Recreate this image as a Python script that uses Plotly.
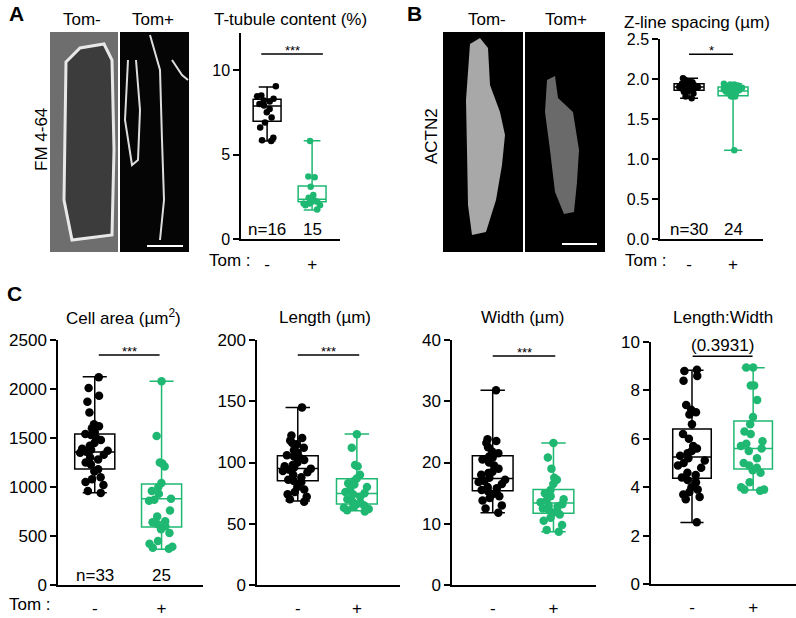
import plotly.graph_objects as go

W, H = 796, 618
GREEN = "#1fb872"
BLACK = "#000000"
FONT = "Liberation Sans"

# ---------------- data ----------------
groups = ["-", "+"]

ttub_neg = [9.05, 8.5, 8.45, 8.3, 8.2, 8.15, 8.0, 7.9, 7.7, 7.5, 7.2, 6.9, 6.6, 6.0, 5.85, 5.8]
ttub_pos = [5.8, 3.7, 3.65, 3.1, 2.6, 2.45, 2.4, 2.3, 2.2, 2.2, 2.1, 2.1, 2.0, 2.0, 1.75]
ttub_stats = {"-": [6.98, 7.87, 8.27, 5.8, 9.0], "+": [2.2, 2.35, 3.14, 1.72, 5.82]}

zline_neg = [2.01, 1.99, 1.97, 1.96, 1.95, 1.95, 1.94, 1.94, 1.93, 1.93, 1.92, 1.92, 1.91, 1.91, 1.90,
             1.90, 1.90, 1.89, 1.89, 1.88, 1.88, 1.87, 1.87, 1.86, 1.86, 1.85, 1.84, 1.82, 1.78, 1.76]
zline_pos = [1.94, 1.93, 1.93, 1.92, 1.91, 1.91, 1.90, 1.90, 1.89, 1.88, 1.87, 1.86, 1.86, 1.85, 1.84,
             1.83, 1.82, 1.81, 1.80, 1.80, 1.79, 1.78, 1.78, 1.11]
zline_stats = {"-": [1.86, 1.90, 1.94, 1.76, 2.01], "+": [1.79, 1.85, 1.90, 1.11, 1.94]}

area_neg = [2120, 2010, 1930, 1870, 1760, 1640, 1620, 1600, 1560, 1540, 1530, 1500, 1480, 1450, 1420, 1390,
            1380, 1370, 1360, 1350, 1330, 1300, 1280, 1250, 1230, 1180, 1160, 1100, 1080, 1050, 1020, 960, 940]
area_pos = [2080, 1520, 1250, 1240, 1210, 1040, 1000, 960, 930, 880, 870, 860, 760, 700, 650, 640, 620,
            600, 570, 530, 450, 420, 390, 380, 370]
area_stats = {"-": [1184, 1357, 1541, 942, 2126], "+": [592, 881, 1031, 364, 2080]}

len_neg = [145, 122, 120, 118, 116, 115, 112, 110, 108, 106, 105, 104, 102, 100, 98, 97, 96, 95, 94, 93,
           92, 90, 88, 86, 85, 84, 80, 78, 76, 74, 72, 70, 68]
len_pos = [123, 112, 98, 97, 90, 87, 85, 83, 82, 80, 78, 76, 75, 74, 72, 70, 68, 67, 66, 65, 64, 63, 62, 61, 60]
len_stats = {"-": [85.2, 95.2, 105.6, 68.6, 144.8], "+": [66.1, 74.6, 86.8, 60.7, 123.3]}

wid_neg = [31.8, 23.8, 23.5, 23.2, 22.5, 21.8, 21.5, 21.0, 20.8, 20.5, 20.0, 19.5, 19.0, 18.5, 18.3, 18.0,
           17.5, 17.2, 17.0, 16.8, 16.5, 16.0, 15.8, 15.5, 15.3, 15.0, 14.8, 14.5, 14.2, 13.8, 13.0, 12.5, 11.8]
wid_pos = [23.2, 20.8, 19.0, 17.5, 17.2, 16.5, 15.5, 15.0, 14.5, 14.0, 13.8, 13.5, 13.2, 13.0, 12.8, 12.5,
           12.2, 12.0, 11.8, 11.5, 11.0, 10.5, 9.8, 9.0, 8.7]
wid_stats = {"-": [15.4, 17.4, 21.1, 11.8, 31.8], "+": [11.7, 13.4, 15.6, 8.7, 23.2]}

lw_neg = [8.85, 8.8, 8.6, 8.4, 7.4, 7.2, 7.1, 7.0, 6.6, 6.2, 6.0, 5.7, 5.6, 5.5, 5.4, 5.3, 5.2, 5.1, 5.0,
          4.9, 4.8, 4.6, 4.5, 4.4, 4.3, 4.2, 4.0, 3.9, 3.8, 3.7, 3.6, 3.5, 2.55]
lw_pos = [8.95, 8.95, 8.2, 8.2, 7.6, 6.9, 6.6, 6.3, 6.2, 5.9, 5.8, 5.7, 5.6, 5.5, 5.2, 5.0, 4.9, 4.8, 4.7,
          4.6, 4.2, 4.0, 3.9, 3.9, 3.85]
lw_stats = {"-": [4.37, 5.25, 6.40, 2.54, 8.83], "+": [4.75, 5.60, 6.74, 3.88, 8.94]}

n_labels = {"A": ["n=16", "15"], "B": ["n=30", "24"], "C": ["n=33", "25"]}


def fx(p):
    return p / W


def fy(p):
    return 1 - p / H


fig = go.Figure()

panels = [
    dict(ax="", neg=ttub_neg, pos=ttub_pos, st=ttub_stats, xpx=(241, 340), ypx=(239, 33),
         xr=[-0.58, 1.62], yr=[0, 12.2], tv=[0, 5, 10], fmt="", bw=0.62, ms=6.5, tf=16,
         title="T-tubule content (%)", tx=290, ty=20, sig=("***", -0.13, 1.24, 10.95), n="A", tl=9),
    dict(ax="2", neg=zline_neg, pos=zline_pos, st=zline_stats, xpx=(660, 763), ypx=(239, 39),
         xr=[-0.66, 1.68], yr=[0, 2.5], tv=[0, 0.5, 1.0, 1.5, 2.0, 2.5], fmt=".1f", bw=0.68, ms=6.5, tf=16,
         title="Z-line spacing (µm)", tx=697, ty=22, sig=("*", 0.0, 1.0, 2.31), n="B", tl=9),
    dict(ax="3", neg=area_neg, pos=area_pos, st=area_stats, xpx=(58, 203), ypx=(585, 340),
         xr=[-0.55, 1.62], yr=[0, 2500], tv=[0, 500, 1000, 1500, 2000, 2500], fmt="", bw=0.6, ms=8.5, tf=17,
         title="Cell area (µm<sup>2</sup>)", tx=123, ty=317, sig=("***", 0.06, 0.97, 2347), n="C", tl=7),
    dict(ax="4", neg=len_neg, pos=len_pos, st=len_stats, xpx=(257, 400), ypx=(585, 340),
         xr=[-0.69, 1.73], yr=[0, 200], tv=[0, 50, 100, 150, 200], fmt="", bw=0.69, ms=8.5, tf=17,
         title="Length (µm)", tx=325, ty=317, sig=("***", 0.0, 1.04, 187.7), n=None, tl=7),
    dict(ax="5", neg=wid_neg, pos=wid_pos, st=wid_stats, xpx=(452, 596), ypx=(585, 340),
         xr=[-0.67, 1.70], yr=[0, 40], tv=[0, 10, 20, 30, 40], fmt="", bw=0.67, ms=8.5, tf=17,
         title="Width (µm)", tx=522, ty=317, sig=("***", 0.0, 1.03, 37.4), n=None, tl=7),
    dict(ax="6", neg=lw_neg, pos=lw_pos, st=lw_stats, xpx=(651, 796), ypx=(584, 342),
         xr=[-0.67, 1.70], yr=[0, 10], tv=[0, 2, 4, 6, 8, 10], fmt="", bw=0.63, ms=8.5, tf=17,
         title="Length:Width", tx=723, ty=317, sig=("(0.3931)", 0.01, 0.99, 9.41), n=None, tl=7),
]

annotations = []
shapes = []


def txt(text, x, y, size, xref="paper", yref="paper", **kw):
    d = dict(text=text, x=x, y=y, xref=xref, yref=yref, showarrow=False, xanchor="center",
             yanchor="middle", font=dict(family=FONT, size=size, color="black"))
    d.update(kw)
    return d


for p in panels:
    xa = "x" + p["ax"]
    ya = "y" + p["ax"]
    for i, (g, vals, col) in enumerate([("-", p["neg"], BLACK), ("+", p["pos"], GREEN)]):
        q1, med, q3, lo, hi = p["st"][g]
        fig.add_trace(go.Box(
            x=[i], q1=[q1], median=[med], q3=[q3], lowerfence=[lo], upperfence=[hi],
            width=p["bw"], whiskerwidth=0.6, fillcolor="rgba(0,0,0,0)",
            line=dict(color=col, width=1.5), boxpoints=False, showlegend=False,
            xaxis=xa, yaxis=ya))
        fig.add_trace(go.Box(
            x=[i] * len(vals), y=vals, width=p["bw"], boxpoints="all", jitter=0.75, pointpos=0,
            fillcolor="rgba(0,0,0,0)", line=dict(color="rgba(0,0,0,0)", width=0),
            marker=dict(color=col, size=p["ms"]), showlegend=False, xaxis=xa, yaxis=ya))

    xd = [fx(p["xpx"][0]), fx(p["xpx"][1])]
    yd = [fy(p["ypx"][0]), fy(p["ypx"][1])]
    fig.layout["xaxis" + p["ax"]] = dict(
        domain=xd, range=p["xr"], anchor=ya, showline=True, linecolor="black", linewidth=1.5,
        tickvals=[0, 1], ticktext=groups, ticks="outside", ticklen=p["tl"], tickcolor="rgba(0,0,0,0)",
        showgrid=False, zeroline=False, automargin=False,
        tickfont=dict(family=FONT, size=17, color="black"), fixedrange=True)
    fig.layout["yaxis" + p["ax"]] = dict(
        domain=yd, range=p["yr"], anchor=xa, showline=True, linecolor="black", linewidth=1.5,
        tickvals=p["tv"], tickformat=p["fmt"], ticks="outside", ticklen=6, tickwidth=1.5,
        tickcolor="black", showgrid=False, zeroline=False, automargin=False,
        tickfont=dict(family=FONT, size=p["tf"], color="black"), fixedrange=True)

    annotations.append(txt(p["title"], fx(p["tx"]), fy(p["ty"]), 17))
    label, x0, x1, ys = p["sig"]
    shapes.append(dict(type="line", xref=xa, yref=ya, x0=x0, x1=x1, y0=ys, y1=ys,
                       line=dict(color="black", width=1.5)))
    if label.startswith("("):
        annotations.append(txt(label, (x0 + x1) / 2, ys, 17, xref=xa, yref=ya, yanchor="bottom", yshift=-1))
    else:
        annotations.append(txt(label, (x0 + x1) / 2, ys, 13, xref=xa, yref=ya, yanchor="bottom", yshift=-6))
    if p["n"]:
        ny = {"A": 229, "B": 229, "C": 575}[p["n"]]
        for i, t in enumerate(n_labels[p["n"]]):
            annotations.append(txt(t, i, fy(ny), 17, xref=xa))
        tom_x, tom_y = {"A": (230, 260), "B": (646, 260), "C": (30, 604)}[p["n"]]
        annotations.append(txt("Tom :", fx(tom_x), fy(tom_y), 17))

for letter, lx, ly in [("A", 16, 13), ("B", 415, 13), ("C", 14, 293)]:
    annotations.append(txt("<b>%s</b>" % letter, fx(lx), fy(ly), 21))

for t, lx, ly in [("Tom-", 82, 20), ("Tom+", 153, 20), ("Tom-", 487, 20), ("Tom+", 566, 20)]:
    annotations.append(txt(t, fx(lx), fy(ly), 17))
for t, lx, ly in [("FM 4-64", 42, 140), ("ACTN2", 431, 136)]:
    annotations.append(txt(t, fx(lx), fy(ly), 17, textangle=-90))


def rect(x0, y0, x1, y1, fill):
    return dict(type="rect", xref="paper", yref="paper", x0=fx(x0), x1=fx(x1), y0=fy(y1), y1=fy(y0),
                fillcolor=fill, line=dict(width=0), layer="below")


def poly(pts, fill, lc="rgba(0,0,0,0)", lw=0, closed=True):
    d = "M " + " L ".join("%.5f,%.5f" % (fx(a), fy(b)) for a, b in pts)
    if closed:
        d += " Z"
    return dict(type="path", xref="paper", yref="paper", path=d, fillcolor=fill,
                line=dict(color=lc, width=lw), layer="below")


shapes += [
    rect(50, 32, 118, 252, "#6e6e6e"),
    poly([(66, 62), (80, 48), (104, 44), (112, 60), (114, 150), (112, 235), (72, 240), (64, 200)],
         "#3c3c3c", "#e8e8e8", 3),
    rect(120, 32, 189, 252, "#050505"),
    poly([(128, 60), (125, 120), (132, 165), (138, 160), (140, 110), (136, 60)], "rgba(0,0,0,0)", "#dddddd", 2, False),
    poly([(150, 35), (160, 70), (162, 140), (164, 200), (160, 240)], "rgba(0,0,0,0)", "#dddddd", 2, False),
    poly([(172, 60), (182, 75), (188, 80)], "rgba(0,0,0,0)", "#dddddd", 2, False),
    dict(type="line", xref="paper", yref="paper", x0=fx(147), x1=fx(183), y0=fy(246), y1=fy(246),
         line=dict(color="white", width=2)),
    rect(443, 32, 523, 252, "#000000"),
    poly([(470, 44), (480, 38), (488, 48), (490, 85), (500, 112), (505, 135), (502, 165), (496, 200),
          (486, 232), (472, 235), (468, 205), (467, 150), (466, 100)], "#a8a8a8"),
    rect(525, 32, 605, 252, "#000000"),
    poly([(547, 80), (555, 76), (558, 98), (573, 112), (579, 150), (577, 182), (574, 212), (564, 214),
          (555, 192), (550, 150), (545, 112)], "#6a6a6a"),
    dict(type="line", xref="paper", yref="paper", x0=fx(562), x1=fx(597), y0=fy(244), y1=fy(244),
         line=dict(color="white", width=2)),
]

fig.update_layout(width=W, height=H, margin=dict(l=0, r=0, t=0, b=0, autoexpand=False),
                  paper_bgcolor="white",
                  plot_bgcolor="rgba(0,0,0,0)", showlegend=False, boxmode="overlay",
                  annotations=annotations, shapes=shapes, font=dict(family=FONT, color="black"))

fig.write_html("out.html", config={"displayModeBar": False},
               post_script="document.body.style.margin='0px';document.body.style.overflow='hidden';")
